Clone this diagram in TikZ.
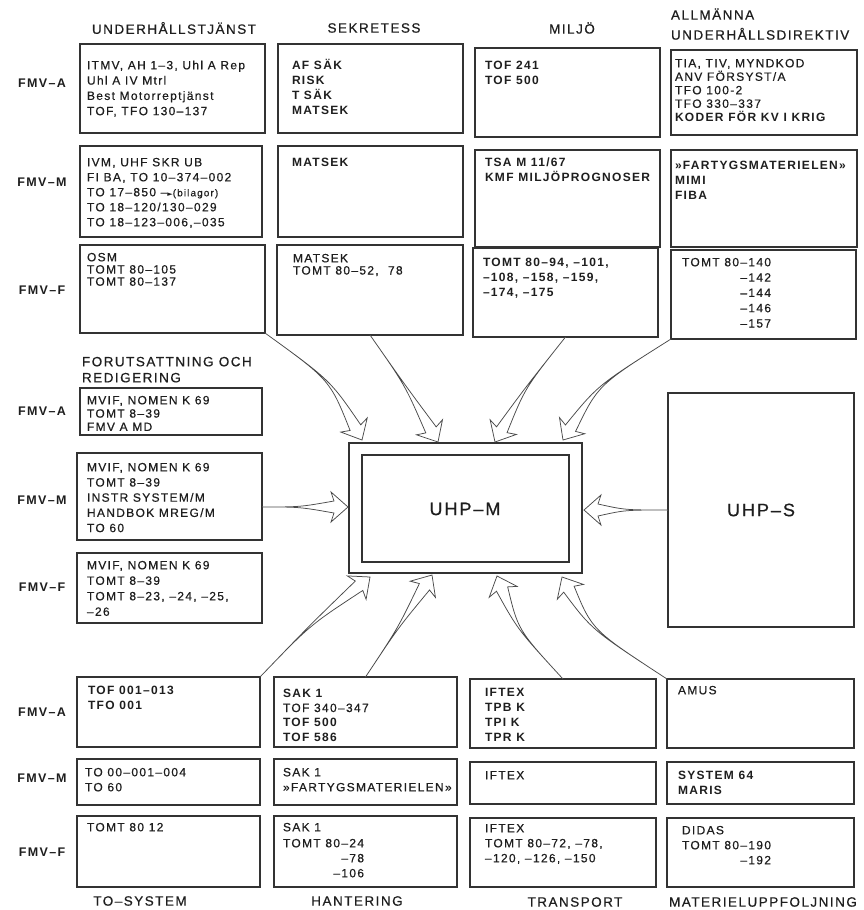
\documentclass[tikz,border=0pt]{standalone}
\usepackage{fontspec}
\setmainfont{Liberation Sans}[LetterSpace=11, UprightFeatures={FakeBold=0.5}]
\newfontfamily\djv{DejaVu Sans}
\usetikzlibrary{calc}
\definecolor{ink}{HTML}{1E1E1E}
\definecolor{ln}{HTML}{333333}
\definecolor{arl}{HTML}{4A4A4A}
\newcommand\fsz[1]{\fontsize{12}{#1}\selectfont}
\newcommand\hdsz{\fontsize{13.5}{16}\selectfont}
\newcommand\boxat[5]{\node[box, anchor=north west, minimum width={#4pt-#2pt}, minimum height={#5pt-#3pt}] (#1) at (#2,#3) {};}
\newcommand\boxtext[5]{\node[tx,#4] (#1) at (#2,{#3-6.7}) {\rule{0pt}{11pt}#5};}
\newcommand\fat[3]{%
  \path ($(#3)!14pt!(#2)$) coordinate (fjoin) ($(#3)!17pt!(#2)$) coordinate (fbarb);
  \draw[fatarrow] (#1) .. controls (#2) .. ($(fjoin)!6pt!90:(#3)$) -- ($(fbarb)!15pt!90:(#3)$) -- (#3) -- ($(fbarb)!15pt!-90:(#3)$) -- ($(fjoin)!6pt!-90:(#3)$) .. controls (#2) .. (#1) -- cycle;
}
\tikzset{
  box/.style={draw=ln, line width=1.3pt, inner sep=0pt, outer sep=0pt},
  tx/.style={inner sep=0pt, outer sep=0pt, align=left, text=ink, anchor=north west, font=\fsz{15}},
  lab/.style={inner sep=0pt, text=ink, font=\fontsize{12.5}{14}\selectfont\bfseries},
  hdr/.style={inner sep=0pt, text=ink, font=\hdsz},
  bigt/.style={inner sep=0pt, text=ink, font=\fontsize{18}{20}\selectfont},
  fatarrow/.style={draw=arl, line width=0.75pt, fill=white, line join=miter},
}
\begin{document}
\begin{tikzpicture}[x=1pt,y=-1pt]
\fill[white] (0,0) rectangle (863,910);
\useasboundingbox (0,0) rectangle (863,910);

% headers
\node[hdr] (hu) at (174,28) {UNDERHÅLLSTJÄNST};
\node[hdr] (hs) at (374,28) {SEKRETESS};
\node[hdr] (hm) at (572,28) {MILJÖ};
\boxtext{ha}{671}{15}{font=\fontsize{13.5}{20}\selectfont}{ALLMÄNNA\\UNDERHÅLLSDIREKTIV}

% row labels
\node[lab] (l1) at (42,83) {FMV–A};
\node[lab] (l2) at (42,182) {FMV–M};
\node[lab] (l3) at (42,290) {FMV–F};
\node[lab] (l4) at (42,411) {FMV–A};
\node[lab] (l5) at (42,500) {FMV–M};
\node[lab] (l6) at (42,587) {FMV–F};
\node[lab] (l7) at (42,712) {FMV–A};
\node[lab] (l8) at (42,778) {FMV–M};
\node[lab] (l9) at (42,852) {FMV–F};

% top row FMV-A
\boxat{u1}{80}{44}{265}{133}
\boxtext{u1t}{87}{65}{font=\fsz{15.3}}{ITMV, AH 1–3, Uhl A Rep\\Uhl A IV Mtrl\\Best Motorreptjänst\\TOF, TFO 130–137}
\boxat{s1}{278}{44}{463}{133}
\boxtext{s1t}{292}{65}{font=\fsz{15}\bfseries}{AF SÄK\\RISK\\T SÄK\\MATSEK}
\boxat{m1}{475}{48}{660}{137}
\boxtext{m1t}{485}{65}{font=\fsz{15}\bfseries}{TOF 241\\TOF 500}
\boxat{a1}{671}{50}{857}{135}
\boxtext{a1t}{675}{63}{font=\fsz{13.5}}{TIA, TIV, MYNDKOD\\ANV FÖRSYST/A\\TFO 100-2\\TFO 330–337\\\textbf{KODER FÖR KV I KRIG}}

% FMV-M
\boxat{u2}{80}{146}{262}{237}
\boxtext{u2t}{87}{162}{font=\fsz{15}}{IVM, UHF SKR UB\\FI BA, TO 10–374–002\\TO 17–850 –{\djv\fontsize{7}{7}\selectfont ►}{\fontsize{10}{10}\selectfont(bilagor)}\\TO 18–120/130–029\\TO 18–123–006,–035}
\boxat{s2}{278}{146}{463}{237}
\boxtext{s2t}{292}{162}{font=\fsz{15}\bfseries}{MATSEK}
\boxat{m2}{475}{150}{660}{247}
\boxtext{m2t}{485}{162}{font=\fsz{15}\bfseries}{TSA M 11/67\\KMF MILJÖPROGNOSER}
\boxat{a2}{671}{150}{857}{247}
\boxtext{a2t}{675}{165}{font=\fsz{15}\bfseries}{»FARTYGSMATERIELEN»\\MIMI\\FIBA}

% FMV-F
\boxat{u3}{80}{245}{265}{333}
\boxtext{u3t}{87}{257}{font=\fsz{12.2}}{OSM\\TOMT 80–105\\TOMT 80–137}
\boxat{s3}{277}{245}{463}{335}
\boxtext{s3t}{293}{258}{font=\fsz{12.2}}{MATSEK\\TOMT 80–52,\ \ 78}
\boxat{m3}{473}{248}{658}{337}
\boxtext{m3t}{483}{262}{font=\fsz{15}\bfseries}{TOMT 80–94, –101,\\–108, –158, –159,\\–174, –175}
\boxat{a3}{671}{250}{856}{339}
\boxtext{a3t}{682}{262}{font=\fsz{15.3}, align=right}{TOMT 80–140\\–142\\–144\\–146\\–157}

% left block
\boxtext{hf}{82}{362}{font=\hdsz}{FORUTSATTNING OCH\\REDIGERING}
\boxat{f1}{80}{388}{262}{435}
\boxtext{f1t}{87}{400}{font=\fsz{13.3}}{MVIF, NOMEN K 69\\TOMT 8–39\\FMV A MD}
\boxat{f2}{77}{453}{262}{540}
\boxtext{f2t}{87}{467}{font=\fsz{15.2}}{MVIF, NOMEN K 69\\TOMT 8–39\\INSTR SYSTEM/M\\HANDBOK MREG/M\\TO 60}
\boxat{f3}{77}{553}{262}{623}
\boxtext{f3t}{87}{565}{font=\fsz{15.5}}{MVIF, NOMEN K 69\\TOMT 8–39\\TOMT 8–23, –24, –25,\\–26}

% centre
\node[box, line width=1.6pt, anchor=north west, minimum width=233pt, minimum height=130pt] (uhpm) at (349,443) {};
\boxat{uhpmi}{362}{455}{569}{562}
\node[bigt] (uhpmt) at (465,509) {UHP–M};
\boxat{uhps}{668}{393}{854}{627}
\node[bigt] (uhpst) at (761,510) {UHP–S};

% bottom FMV-A
\boxat{ts1}{77}{677}{260}{747}
\boxtext{ts1t}{88}{690}{font=\fsz{15}\bfseries}{TOF 001–013\\TFO 001}
\boxat{ha1}{274}{677}{457}{747}
\boxtext{ha1t}{283}{693}{font=\fsz{14.7}}{\textbf{SAK 1}\\TOF 340–347\\\textbf{TOF 500}\\\textbf{TOF 586}}
\boxat{tr1}{470}{679}{656}{748}
\boxtext{tr1t}{485}{692}{font=\fsz{15}\bfseries}{IFTEX\\TPB K\\TPI K\\TPR K}
\boxat{ma1}{667}{679}{854}{748}
\boxtext{ma1t}{678}{690}{}{AMUS}

% bottom FMV-M
\boxat{ts2}{77}{759}{260}{805}
\boxtext{ts2t}{85}{772}{}{TO 00–001–004\\TO 60}
\boxat{ha2}{274}{759}{457}{805}
\boxtext{ha2t}{283}{772}{}{SAK 1\\»FARTYGSMATERIELEN»}
\boxat{tr2}{470}{762}{656}{804}
\boxtext{tr2t}{485}{775}{}{IFTEX}
\boxat{ma2}{667}{762}{854}{804}
\boxtext{ma2t}{678}{775}{font=\fsz{15}\bfseries}{SYSTEM 64\\MARIS}

% bottom FMV-F
\boxat{ts3}{77}{816}{260}{887}
\boxtext{ts3t}{87}{827}{}{TOMT 80 12}
\boxat{ha3}{274}{816}{457}{887}
\boxtext{ha3a}{283}{827}{}{SAK 1}
\boxtext{ha3b}{283}{843}{align=right}{TOMT 80–24\\–78\\–106}
\boxat{tr3}{470}{818}{656}{887}
\boxtext{tr3t}{485}{828}{}{IFTEX\\TOMT 80–72, –78,\\–120, –126, –150}
\boxat{ma3}{667}{818}{854}{887}
\boxtext{ma3a}{682}{830}{}{DIDAS}
\boxtext{ma3b}{682}{845}{align=right}{TOMT 80–190\\–192}

% bottom headers
\node[hdr] (bts) at (140,901) {TO–SYSTEM};
\node[hdr] (bha) at (357,901) {HANTERING};
\node[hdr] (btr) at (575,902) {TRANSPORT};
\node[hdr] (bma) at (763,902) {MATERIELUPPFOLJNING};

% arrow tips
\coordinate (tp1) at (362,440);
\coordinate (tp2) at (438,442);
\coordinate (tp3) at (495,442);
\coordinate (tp4) at (563,440);
\coordinate (tp5) at (370,577);
\coordinate (tp6) at (432,575);
\coordinate (tp7) at (497,576);
\coordinate (tp8) at (562,577);
\coordinate (tp9) at (348,507);
\coordinate (tp10) at (584,510);
\coordinate (s9) at ($(f2.north east)!0.62!(f2.south east)$);

\fat{u3.south east}{330,380}{tp1}
\fat{s3.south}{405,385}{tp2}
\fat{m3.south}{525,388}{tp3}
\fat{a3.south west}{598,385}{tp4}
\fat{ts1.north east}{310,625}{tp5}
\fat{ha1.north}{398,628}{tp6}
\fat{tr1.north}{518,630}{tp7}
\fat{ma1.north west}{592,630}{tp8}
\fat{s9}{300,507}{tp9}
\fat{uhps.west}{625,510}{tp10}
\end{tikzpicture}
\end{document}
